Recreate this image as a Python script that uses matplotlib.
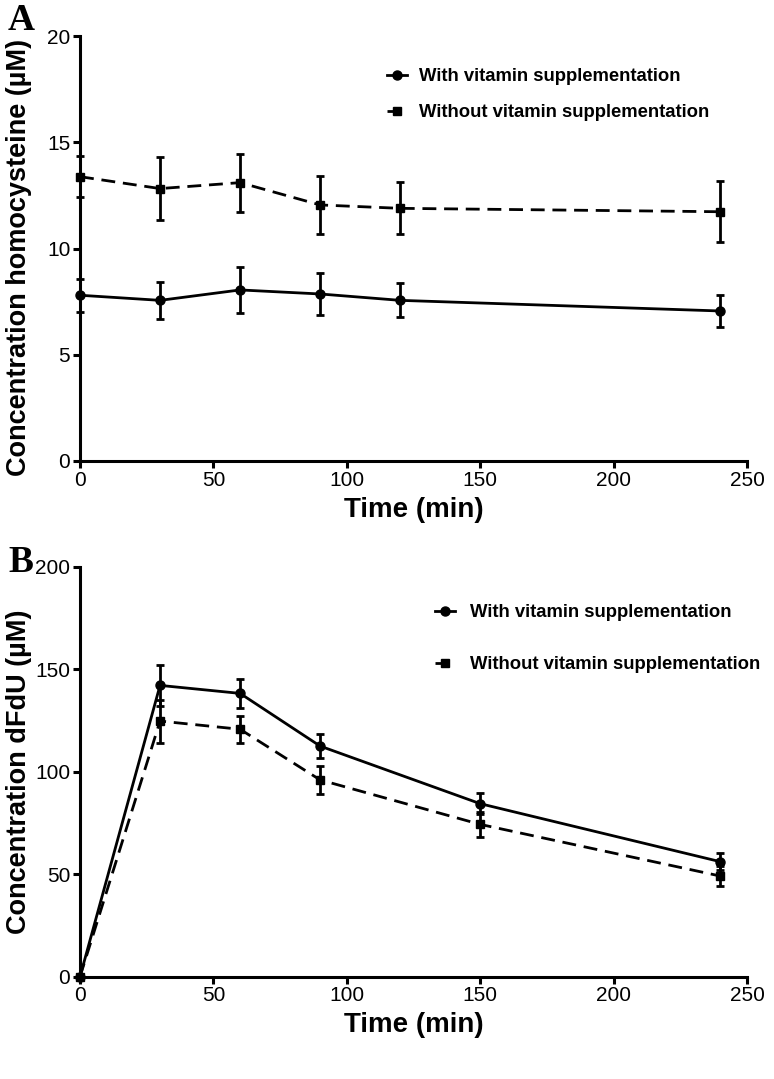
import matplotlib.pyplot as plt
from matplotlib.lines import Line2D

plt.rcParams['font.family'] = ['Liberation Sans', 'DejaVu Sans']

# Panel A: homocysteine
time_a = [0, 30, 60, 90, 120, 240]
hcy_with = [7.8, 7.56, 8.05, 7.86, 7.56, 7.06]
hcy_with_err = [0.78, 0.88, 1.07, 1.0, 0.8, 0.76]
hcy_without = [13.38, 12.82, 13.1, 12.05, 11.89, 11.73]
hcy_without_err = [0.95, 1.47, 1.36, 1.35, 1.23, 1.44]

# Panel B: dFdU
time_b = [0, 30, 60, 90, 150, 240]
dfdu_with = [0, 142.1, 138.2, 112.5, 84.4, 56.1]
dfdu_with_err = [0, 10, 7, 6, 5, 4]
dfdu_without = [0, 124.7, 120.7, 96.0, 74.3, 49.1]
dfdu_without_err = [0, 10.5, 6.5, 7, 6, 5]

labels = ['With vitamin supplementation', 'Without vitamin supplementation']

fig = plt.figure(figsize=(7.74, 10.79), dpi=100)
W, H = 774, 1079
ax_a = fig.add_axes([80 / W, 1 - 461 / H, 667 / W, 425 / H])
ax_b = fig.add_axes([80 / W, 1 - 976.7 / H, 667 / W, 410 / H])

dash = (0, (5, 2.8))


def draw(ax, t, y1, e1, y2, e2):
    ax.errorbar(t, y1, yerr=e1, color='black', lw=2, marker='o', ms=6.5,
                capsize=3, capthick=2, elinewidth=2, clip_on=False, zorder=3)
    eb = ax.errorbar(t, y2, yerr=e2, color='black', lw=2, marker='s', ms=6,
                     capsize=3, capthick=2, elinewidth=2, clip_on=False, zorder=3)
    eb[0].set_linestyle(dash)
    for s in ['top', 'right']:
        ax.spines[s].set_visible(False)
    for s in ['left', 'bottom']:
        ax.spines[s].set_linewidth(2.2)
    ax.tick_params(direction='out', length=5, width=2.2, labelsize=15, pad=2)
    ax.set_xlim(0, 250)
    ax.set_xticks([0, 50, 100, 150, 200, 250])
    ax.set_xlabel('Time (min)', fontsize=20, fontweight='bold', labelpad=5)


draw(ax_a, time_a, hcy_with, hcy_with_err, hcy_without, hcy_without_err)
ax_a.set_ylim(0, 20)
ax_a.set_yticks([0, 5, 10, 15, 20])
ax_a.set_ylabel('Concentration homocysteine (µM)', fontsize=19.5, fontweight='bold')
ax_a.yaxis.set_label_coords(-0.072, 0.478)

draw(ax_b, time_b, dfdu_with, dfdu_with_err, dfdu_without, dfdu_without_err)
ax_b.set_ylim(0, 200)
ax_b.set_yticks([0, 50, 100, 150, 200])
ax_b.set_ylabel('Concentration dFdU (µM)', fontsize=19.5, fontweight='bold')
ax_b.yaxis.set_label_coords(-0.072, 0.5)

handles = [Line2D([], [], color='black', lw=2, marker='o', ms=6.5),
           Line2D([], [], color='black', lw=2, marker='s', ms=6, linestyle=dash)]

ax_a.legend(handles, labels, loc='upper left', bbox_to_anchor=(0.4355, 0.963),
            frameon=False, handlelength=1.1, handletextpad=0.6, labelspacing=1.03,
            prop={'weight': 'bold', 'size': 13.3})
ax_b.legend(handles, labels, loc='upper left', bbox_to_anchor=(0.5075, 0.949),
            frameon=False, handlelength=1.1, handletextpad=0.8, labelspacing=1.9,
            prop={'weight': 'bold', 'size': 13.3})

fig.text(8 / W, 1 - 30 / H, 'A', family='Liberation Serif', fontweight='bold', fontsize=27)
fig.text(8 / W, 1 - 572 / H, 'B', family='Liberation Serif', fontweight='bold', fontsize=27)

fig.savefig('out.png', dpi=100)
